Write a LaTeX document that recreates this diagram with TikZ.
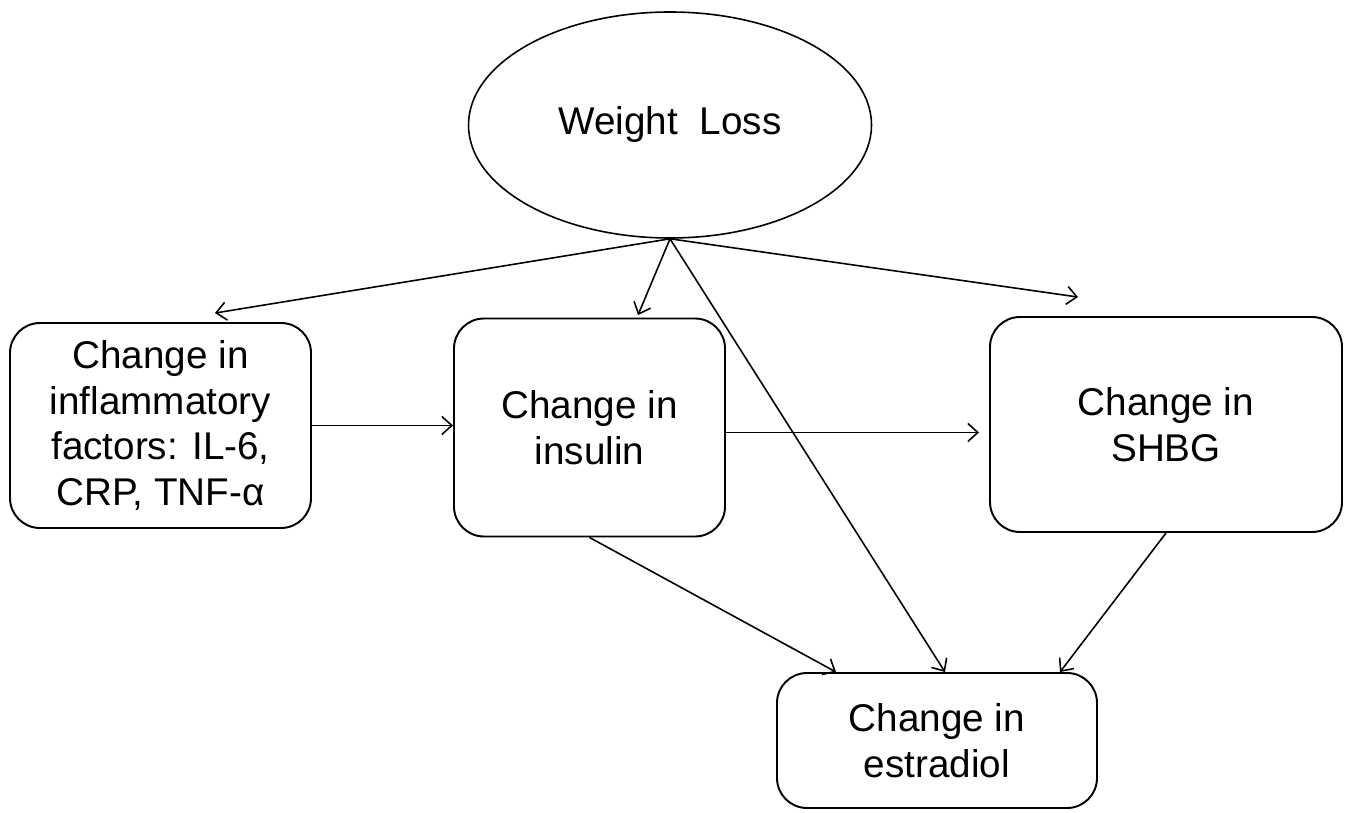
\documentclass[tikz,border=0pt]{standalone}
\usepackage{fontspec}
\setmainfont{Liberation Sans}
\usetikzlibrary{shapes.geometric, arrows.meta}

\begin{document}
\begin{tikzpicture}[
  every node/.style={font=\fontsize{22}{26}\selectfont, align=center},
  factor/.style={draw, line width=1.1pt, rounded corners=0.6cm, inner sep=0pt},
  link/.style={-{Straight Barb[length=2mm,width=3.6mm]}, line width=0.9pt}
]
\useasboundingbox (0,0) rectangle (27,16.24);
\node[draw, ellipse, line width=0.9pt, minimum width=8.06cm, minimum height=4.52cm] (wl) at (13.4,13.74) {Weight\ \ Loss};
\node[factor, minimum width=6.02cm, minimum height=4.1cm] (infl) at (3.21,7.73) {Change in\\inflammatory\\factors: IL-6,\\CRP, TNF-α};
\node[factor, minimum width=5.42cm, minimum height=4.36cm] (ins) at (11.79,7.69) {Change in\\insulin};
\node[factor, minimum width=7.04cm, minimum height=4.3cm] (shbg) at (23.32,7.75) {Change in\\SHBG};
\node[factor, minimum width=6.4cm, minimum height=2.7cm] (estr) at (18.74,1.43) {Change in\\estradiol};
% weight loss to the factors
\draw[link] (wl.south) -- ([xshift=1.09cm,yshift=0.18cm]infl.north);
\draw[link] (wl.south) -- ([xshift=0.97cm,yshift=0.05cm]ins.north);
\draw[link] (wl.south) -- ([xshift=-1.76cm,yshift=0.38cm]shbg.north);
\draw[link] (wl.south) -- ([xshift=0.16cm]estr.north);
% between the factors
\draw[link] (infl.east) -- (infl.east -| ins.west);
\draw[link, shorten >=0.2cm] ([yshift=-0.1cm]ins.east) -- ([yshift=-0.1cm]ins.east -| shbg.west);
\draw[link] (ins.south) -- ([xshift=-2.02cm]estr.north);
\draw[link] (shbg.south) -- ([xshift=2.46cm]estr.north);
\end{tikzpicture}
\end{document}
